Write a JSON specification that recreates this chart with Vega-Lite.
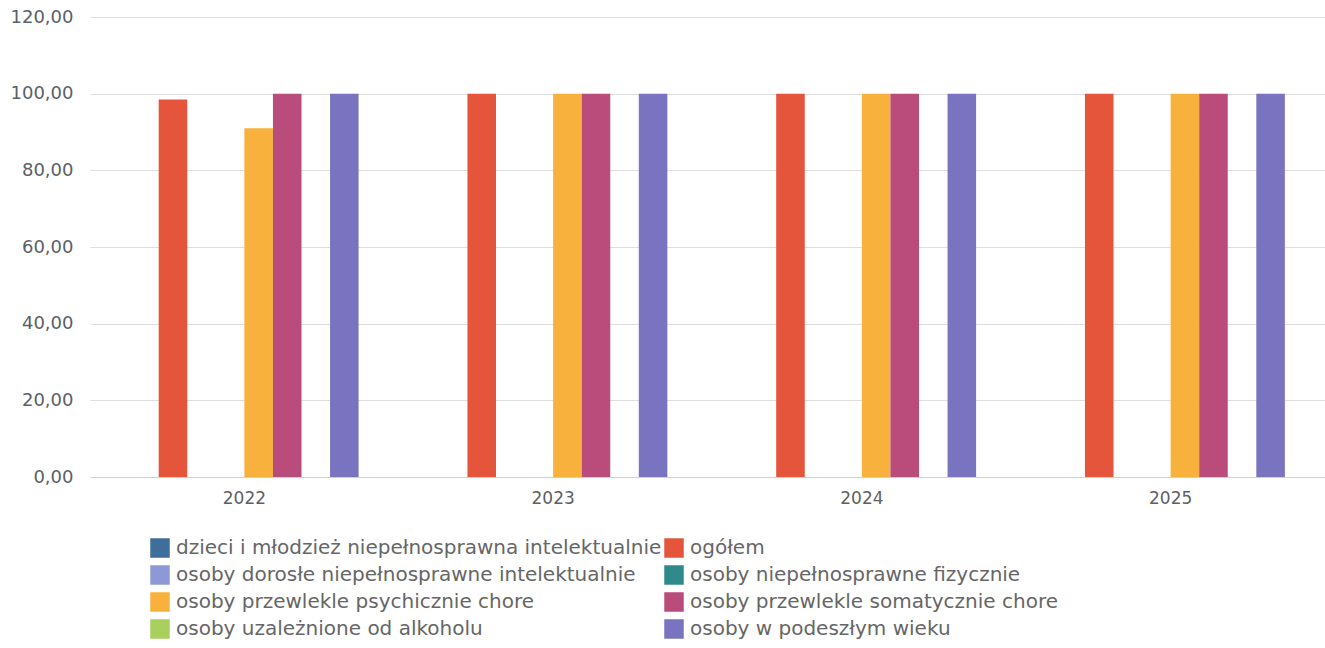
{
  "$schema": "https://vega.github.io/schema/vega-lite/v6.json",
  "autosize": "none",
  "width": 1235,
  "height": 460,
  "padding": {"left": 90, "top": 17, "right": 0, "bottom": 171},
  "background": "white",
  "config": {
    "view": {"stroke": null},
    "font": "DejaVu Sans"
  },
  "data": {
    "values": [
      {"rok": "2022", "kat": "dzieci i młodzież niepełnosprawna intelektualnie", "v": 0},
      {"rok": "2022", "kat": "ogółem", "v": 98.5},
      {"rok": "2022", "kat": "osoby dorosłe niepełnosprawne intelektualnie", "v": 0},
      {"rok": "2022", "kat": "osoby niepełnosprawne fizycznie", "v": 0},
      {"rok": "2022", "kat": "osoby przewlekle psychicznie chore", "v": 91},
      {"rok": "2022", "kat": "osoby przewlekle somatycznie chore", "v": 100},
      {"rok": "2022", "kat": "osoby uzależnione od alkoholu", "v": 0},
      {"rok": "2022", "kat": "osoby w podeszłym wieku", "v": 100},
      {"rok": "2023", "kat": "dzieci i młodzież niepełnosprawna intelektualnie", "v": 0},
      {"rok": "2023", "kat": "ogółem", "v": 100},
      {"rok": "2023", "kat": "osoby dorosłe niepełnosprawne intelektualnie", "v": 0},
      {"rok": "2023", "kat": "osoby niepełnosprawne fizycznie", "v": 0},
      {"rok": "2023", "kat": "osoby przewlekle psychicznie chore", "v": 100},
      {"rok": "2023", "kat": "osoby przewlekle somatycznie chore", "v": 100},
      {"rok": "2023", "kat": "osoby uzależnione od alkoholu", "v": 0},
      {"rok": "2023", "kat": "osoby w podeszłym wieku", "v": 100},
      {"rok": "2024", "kat": "dzieci i młodzież niepełnosprawna intelektualnie", "v": 0},
      {"rok": "2024", "kat": "ogółem", "v": 100},
      {"rok": "2024", "kat": "osoby dorosłe niepełnosprawne intelektualnie", "v": 0},
      {"rok": "2024", "kat": "osoby niepełnosprawne fizycznie", "v": 0},
      {"rok": "2024", "kat": "osoby przewlekle psychicznie chore", "v": 100},
      {"rok": "2024", "kat": "osoby przewlekle somatycznie chore", "v": 100},
      {"rok": "2024", "kat": "osoby uzależnione od alkoholu", "v": 0},
      {"rok": "2024", "kat": "osoby w podeszłym wieku", "v": 100},
      {"rok": "2025", "kat": "dzieci i młodzież niepełnosprawna intelektualnie", "v": 0},
      {"rok": "2025", "kat": "ogółem", "v": 100},
      {"rok": "2025", "kat": "osoby dorosłe niepełnosprawne intelektualnie", "v": 0},
      {"rok": "2025", "kat": "osoby niepełnosprawne fizycznie", "v": 0},
      {"rok": "2025", "kat": "osoby przewlekle psychicznie chore", "v": 100},
      {"rok": "2025", "kat": "osoby przewlekle somatycznie chore", "v": 100},
      {"rok": "2025", "kat": "osoby uzależnione od alkoholu", "v": 0},
      {"rok": "2025", "kat": "osoby w podeszłym wieku", "v": 100}
    ]
  },
  "mark": {"type": "bar"},
  "encoding": {
    "x": {
      "field": "rok", "type": "nominal",
      "scale": {"paddingInner": 0.26, "paddingOuter": 0.13},
      "axis": {
        "title": null, "labelAngle": 0, "ticks": false, "domain": true,
        "domainColor": "#d0d0d0", "labelFontSize": 17, "labelColor": "#5f5f5f",
        "labelPadding": 13
      }
    },
    "xOffset": {
      "field": "kat", "type": "nominal",
      "sort": [
        "dzieci i młodzież niepełnosprawna intelektualnie",
        "ogółem",
        "osoby dorosłe niepełnosprawne intelektualnie",
        "osoby niepełnosprawne fizycznie",
        "osoby przewlekle psychicznie chore",
        "osoby przewlekle somatycznie chore",
        "osoby uzależnione od alkoholu",
        "osoby w podeszłym wieku"
      ],
      "scale": {"paddingInner": 0, "paddingOuter": 0}
    },
    "y": {
      "field": "v", "type": "quantitative",
      "scale": {"domain": [0, 120], "nice": false},
      "axis": {
        "title": null, "values": [0, 20, 40, 60, 80, 100, 120],
        "labelExpr": "replace(format(datum.value, '.2f'), '.', ',')",
        "domain": false, "ticks": false, "grid": true, "gridColor": "#dedede",
        "labelFontSize": 18, "labelColor": "#5a6068", "labelPadding": 17
      }
    },
    "color": {
      "field": "kat", "type": "nominal",
      "scale": {
        "domain": [
          "dzieci i młodzież niepełnosprawna intelektualnie",
          "osoby dorosłe niepełnosprawne intelektualnie",
          "osoby przewlekle psychicznie chore",
          "osoby uzależnione od alkoholu",
          "ogółem",
          "osoby niepełnosprawne fizycznie",
          "osoby przewlekle somatycznie chore",
          "osoby w podeszłym wieku"
        ],
        "range": ["#3d6e9c", "#8d99d6", "#f8b13c", "#a9cf5c", "#e4553b", "#2f8a8c", "#b94c7b", "#7a73c0"]
      },
      "legend": {
        "title": null,
        "orient": "none",
        "legendX": 60,
        "legendY": 521,
        "direction": "vertical",
        "columns": 2,
        "columnPadding": 2,
        "rowPadding": 7,
        "symbolType": "square",
        "symbolSize": 380,
        "symbolStrokeWidth": 0,
        "labelFontSize": 20,
        "labelColor": "#666666",
        "labelOffset": 6,
        "padding": 0,
        "labelLimit": 700
      }
    }
  }
}
